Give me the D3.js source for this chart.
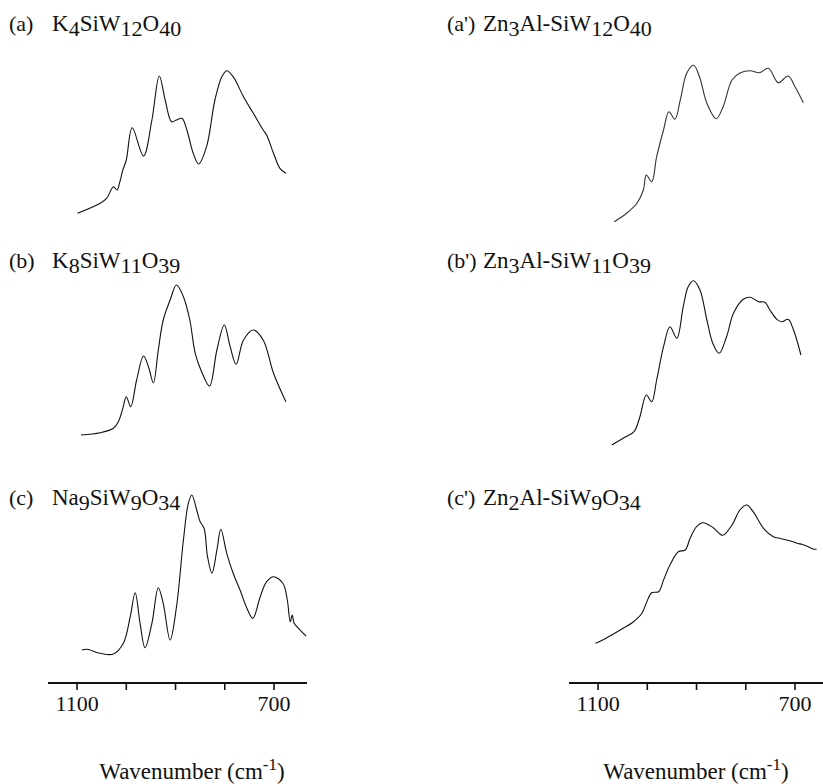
<!DOCTYPE html>
<html>
<head>
<meta charset="utf-8">
<script src="https://cdn.jsdelivr.net/npm/d3@7"></script>
<style>
  html, body { margin: 0; padding: 0; background: #fff; }
  svg { display: block; }
  text { font-family: "Liberation Serif", "Times New Roman", serif; fill: #111; }
</style>
</head>
<body>
<svg id="chart" width="823" height="784"></svg>
<script>
// ---------- DATA (wavenumber in cm-1, relative intensity in arbitrary units) ----------
const wnA  = [1099,1053,1040,1026,1019,1013,1007,1000,988,965,948,933,921,908,898,887,877,864,853,837,820,806,796,783,762,742,722,715,701,688,676];
const valA = [6.7,16.7,21.7,33.3,30,38.3,50,60,92.3,64,100,144,120,98.3,100,101.7,90,66.7,56,73.3,120,143.3,149.3,143.3,123.3,106.7,90,85,66.7,51.7,46.7];

const wnB  = [1092,1053,1026,1016,1007,1000,991,979,965,955,945,935,925,911,898,884,871,860,847,831,816,801,789,777,762,742,722,701,676];
const valB = [5,7.3,11.7,18.3,31.7,43.3,33.3,60,84,73.3,57.3,90,120,140,155,143.3,120,86.7,68.3,54,90,115,93.3,75.7,100,110,100,66.7,38.3];

const wnC  = [1090,1080,1053,1026,1006,992,982,972,962,948,935,925,911,898,884,874,867,857,850,842,835,826,816,808,796,783,769,755,743,728,715,701,682,673,667,663,659,647,635];
const valC = [10,10.7,6.7,6,16.7,43.3,67.3,36.7,12.3,36.7,72.3,56.7,20,53.3,120,156.7,165,150,138.3,131.7,103.3,86.7,110,130.7,106.7,86.7,70,51.7,41.7,63.3,78.3,83.3,76.7,60,38.3,45,36.7,30,24];

const wnA2  = [1067,1042,1021,1008,1002,991,981,967,956,944,933,920,906,894,879,860,846,828,811,791,772,754,734,714,700,683];
const valA2 = [-1.7,6.7,16.7,30,45,38.3,63.3,90,108.3,100.7,120,146.7,154.7,143.3,116.7,101.3,113.3,140,147.3,149.3,147.3,151.7,137.3,144,133.3,117.3];

const wnB2  = [1072,1049,1027,1015,1002,991,981,967,954,940,927,917,906,893,879,867,854,839,825,805,791,774,761,751,737,727,714,703,688];
const valB2 = [-5,1.7,8.3,23.3,45,38.3,60,93.3,113.3,101.7,133.3,153.3,159.3,150,120,96.7,86.7,103.3,126.7,140.7,142.7,138.3,137.7,130,120.7,118.3,120.7,110,85];

const wnC2  = [1105,1082,1055,1028,1011,1001,991,977,967,954,937,923,913,900,887,866,847,828,812,798,785,764,744,730,717,706,696,685,673,664,656];
const valC2 = [16.7,22.3,30,38.3,46.7,58.3,67.3,68.3,80,95,108.3,110,121.7,133.3,137.3,132.3,124.7,135,150,155,148.3,131.7,123.3,121.5,120,118.5,116.7,115.5,113.3,111,110.7];

const panelLabels = ["(a)", "(b)", "(c)", "(a')", "(b')", "(c')"];
// formula segments: [text, isSubscript]
const formulas = [
  [["K",0],["4",1],["SiW",0],["12",1],["O",0],["40",1]],
  [["K",0],["8",1],["SiW",0],["11",1],["O",0],["39",1]],
  [["Na",0],["9",1],["SiW",0],["9",1],["O",0],["34",1]],
  [["Zn",0],["3",1],["Al-SiW",0],["12",1],["O",0],["40",1]],
  [["Zn",0],["3",1],["Al-SiW",0],["11",1],["O",0],["39",1]],
  [["Zn",0],["2",1],["Al-SiW",0],["9",1],["O",0],["34",1]]
];
const tickValues = [1100, 1000, 900, 800, 700];
const tickLabelValues = [1100, 700];
const axisTitle = "Wavenumber (cm";
const axisTitleSup = "-1";

// ---------- LAYOUT ----------
const svg = d3.select("#chart");
const columns = [
  { x0: 48, x1: 307, titleLabelX: 9, titleX: 52, axisTitleX: 192 },
  { x0: 569, x1: 828, titleLabelX: 447, titleX: 483, axisTitleX: 696 }
];
const rowBottoms = [220, 440, 660];
const rowTitleY = [31, 268, 505];
const bandH = 160;
const axisY = 683;

const series = [
  { wn: wnA,  val: valA,  col: 0, row: 0 },
  { wn: wnB,  val: valB,  col: 0, row: 1 },
  { wn: wnC,  val: valC,  col: 0, row: 2 },
  { wn: wnA2, val: valA2, col: 1, row: 0 },
  { wn: wnB2, val: valB2, col: 1, row: 1 },
  { wn: wnC2, val: valC2, col: 1, row: 2 }
];

const xScales = columns.map(c => d3.scaleLinear().domain([1159, 633]).range([c.x0, c.x1]));
const yScales = rowBottoms.map(b => d3.scaleLinear().domain([0, 160]).range([b, b - bandH]));

// curves
series.forEach((s, i) => {
  const x = xScales[s.col], y = yScales[s.row];
  const pts = s.wn.map((w, k) => [w, s.val[k]]);
  const line = d3.line()
    .x(d => x(d[0]))
    .y(d => y(d[1]))
    .curve(d3.curveCatmullRom.alpha(0.5));
  svg.append("path")
    .attr("d", line(pts))
    .attr("fill", "none")
    .attr("stroke", i === 3 ? "#333" : "#111")
    .attr("stroke-width", 1.1)
    .attr("stroke-linejoin", "round");
});

// titles
series.forEach((s, i) => {
  const c = columns[s.col];
  const ty = rowTitleY[s.row];
  svg.append("text")
    .attr("x", c.titleLabelX).attr("y", ty)
    .attr("font-size", 22)
    .text(panelLabels[i]);
  const t = svg.append("text")
    .attr("x", c.titleX).attr("y", ty)
    .attr("font-size", 23);
  let shifted = false;
  formulas[i].forEach(([txt, sub]) => {
    const ts = t.append("tspan").text(txt);
    if (sub) {
      ts.attr("font-size", 22).attr("dy", shifted ? 0 : 5);
      shifted = true;
    } else {
      ts.attr("dy", shifted ? -5 : 0);
      shifted = false;
    }
  });
});

// axes
columns.forEach((c, ci) => {
  const x = xScales[ci];
  const g = svg.append("g");
  g.append("line")
    .attr("x1", c.x0).attr("x2", c.x1)
    .attr("y1", axisY).attr("y2", axisY)
    .attr("stroke", "#111").attr("stroke-width", 2);
  g.selectAll("line.tick").data(tickValues).enter().append("line")
    .attr("class", "tick")
    .attr("x1", d => x(d)).attr("x2", d => x(d))
    .attr("y1", axisY).attr("y2", axisY + 7)
    .attr("stroke", "#111").attr("stroke-width", 1.6);
  g.selectAll("text.tl").data(tickLabelValues).enter().append("text")
    .attr("class", "tl")
    .attr("x", d => x(d)).attr("y", 711)
    .attr("text-anchor", "middle")
    .attr("font-size", 22)
    .text(d => d);
  const at = g.append("text")
    .attr("x", c.axisTitleX).attr("y", 779)
    .attr("text-anchor", "middle")
    .attr("font-size", 23);
  at.append("tspan").text(axisTitle);
  at.append("tspan").attr("font-size", 17).attr("dy", -9).text(axisTitleSup);
  at.append("tspan").attr("dy", 9).text(")");
});
</script>
</body>
</html>
